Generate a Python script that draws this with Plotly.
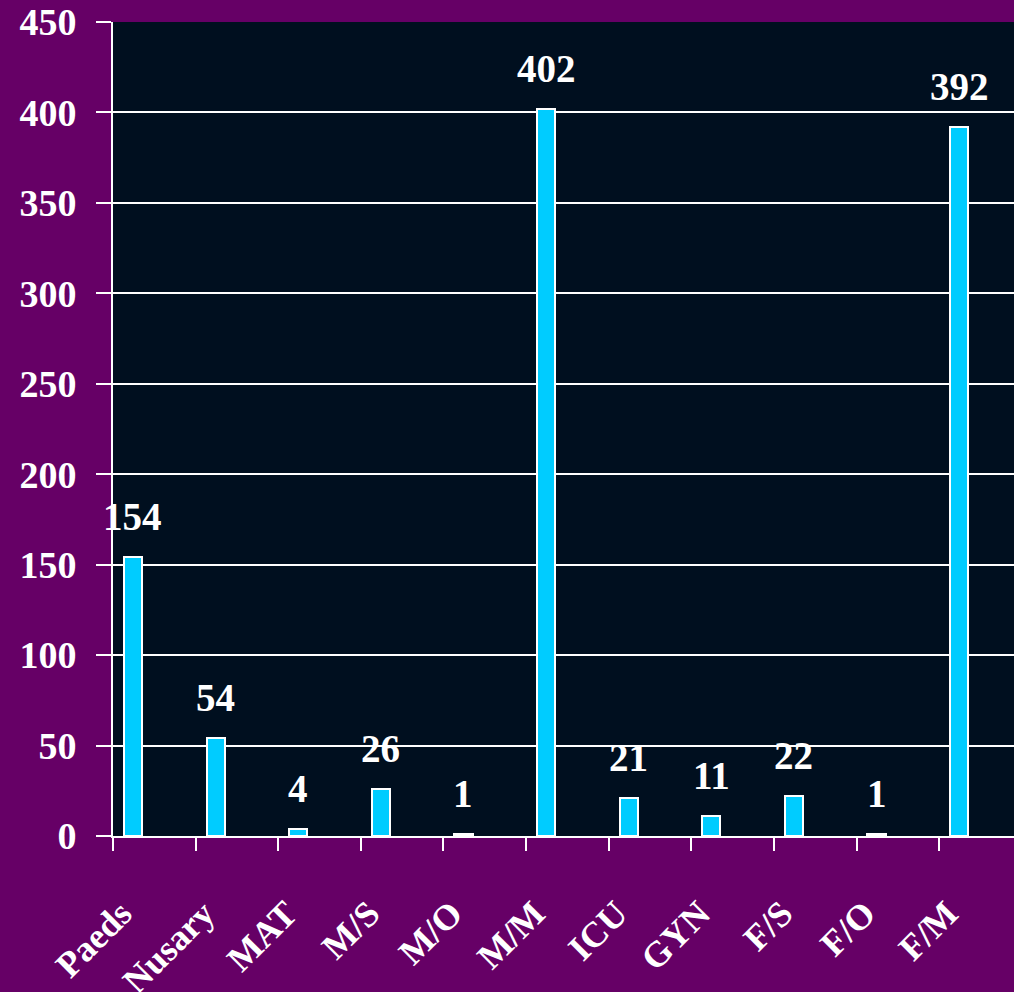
import plotly.graph_objects as go

categories = ["Paeds", "Nusary", "MAT", "M/S", "M/O", "M/M", "ICU", "GYN", "F/S", "F/O", "F/M"]
values = [154, 54, 4, 26, 1, 402, 21, 11, 22, 1, 392]
y_ticks = [0, 50, 100, 150, 200, 250, 300, 350, 400, 450]

BAR_OFFSET = -0.368
BAR_WIDTH = 0.22
FONT = "Liberation Serif, Times New Roman, serif"

fig = go.Figure()
fig.add_trace(go.Bar(
    x=categories, y=values,
    offset=BAR_OFFSET, width=BAR_WIDTH,
    marker=dict(color="#00CCFF", line=dict(color="white", width=2)),
    hoverinfo="x+y",
))

for i, v in enumerate(values):
    fig.add_annotation(
        x=i + BAR_OFFSET + BAR_WIDTH / 2, y=v, xref="x", yref="y",
        text=f"<b>{v}</b>", showarrow=False, yanchor="bottom", yshift=17,
        font=dict(family=FONT, size=39, color="white"),
    )

fig.update_layout(
    width=1030, height=992,
    margin=dict(l=113, r=0, t=22, b=156, autoexpand=False),
    paper_bgcolor="#660066",
    plot_bgcolor="#000F1F",
    showlegend=False,
    bargap=0,
    font=dict(family=FONT, color="white"),
)
fig.update_xaxes(
    type="category",
    range=[-0.5, 10.60],
    tickson="boundaries",
    ticks="outside", ticklen=13, tickwidth=2, tickcolor="white",
    tickangle=-45,
    ticklabelshift=-33,
    ticklabelstandoff=40,
    tickfont=dict(family=FONT, size=36, color="white", weight="bold"),
    showline=True, linecolor="white", linewidth=2,
    showgrid=False, zeroline=False,
    automargin=False,
)
fig.update_yaxes(
    range=[0, 450],
    tickvals=y_ticks,
    ticks="outside", ticklen=15, tickwidth=2, tickcolor="white",
    ticklabelstandoff=12,
    tickfont=dict(family=FONT, size=38, color="white", weight="bold"),
    showline=True, linecolor="white", linewidth=2,
    showgrid=True, gridcolor="white", gridwidth=2,
    zeroline=False,
    automargin=False,
)

fig.write_html(
    "out.html",
    config={"displayModeBar": False},
    post_script=(
        "document.documentElement.style.overflow='hidden';"
        "document.documentElement.style.background='#000F1F';"
        "document.body.style.margin='0';"
        "document.body.style.overflow='hidden';"
        "document.body.style.background='#000F1F';"
    ),
)
